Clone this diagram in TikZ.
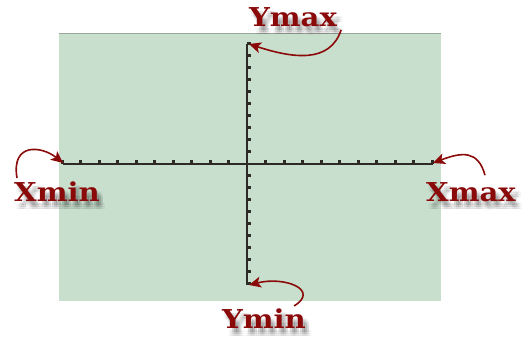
\documentclass[tikz,border=0pt]{standalone}
\usepackage{fontspec}
\setmainfont{DejaVu Serif}
\usepackage{tikz}
\usetikzlibrary{calc,arrows.meta}
\definecolor{gcscreen}{HTML}{C9DFCE}
\definecolor{gcedge}  {HTML}{9AA59D}
\definecolor{gcaxis}  {HTML}{2E2B26}
\definecolor{gcred}   {HTML}{8A0A0A}
\tikzset{
  lbl/.style={font=\bfseries\fontsize{26}{26}\selectfont, text=gcred, inner sep=0pt},
  lblshadow/.style={lbl, text=black, opacity=0.05},
  pointer/.style={gcred, line width=1.6pt, -{Stealth[length=12pt,width=11pt,inset=3pt]}},
  axline/.style={gcaxis, line width=1.8pt},
  axtick/.style={gcaxis, line width=3pt}
}
\newcommand{\gclabel}[3]{%
  \foreach \dx in {2,4,6} \foreach \dy in {4,6,8}
    \node[lblshadow] at ($(#2)+(\dx,\dy)$) {\scalebox{1.12}[1]{#3}};
  \node[lbl] (#1) at (#2) {\scalebox{1.12}[1]{#3}};}

\begin{document}
\begin{tikzpicture}[x=1pt, y=-1pt]
  \useasboundingbox (0,0) rectangle (523,339);
  % screen
  \fill[gcscreen] (59,33) rectangle (441,301);
  \draw[gcedge, line width=1.5pt] (59,33.7) -- (441,33.7);
  % axes
  \coordinate (orig)   at (247,164);
  \coordinate (ytop)   at (247,44);
  \coordinate (ybot)   at (247,285);
  \coordinate (xleft)  at (63,164);
  \coordinate (xright) at (433,164);
  \draw[axline] (xleft) -- (xright);
  \draw[axline] (ytop) -- (ybot);
  \foreach \i in {1,...,10} {
    \draw[axtick] ($(orig)+(\i*18.5,0)$) -- ++(0,-4);
    \draw[axtick] ($(orig)-(\i*18.5,0)$) -- ++(0,-4);
    \draw[axtick] ($(orig)+(0,\i*12)$) -- ++(4,0);
    \draw[axtick] ($(orig)-(0,\i*12)$) -- ++(4,0);
  }
  % labels
  \gclabel{ymax}{293,17}{Ymax}
  \gclabel{xmin}{57,192}{Xmin}
  \gclabel{xmax}{471,192}{Xmax}
  \gclabel{ymin}{264,319}{Ymin}
  % pointers
  \draw[pointer] ([shift={(4pt,-3pt)}]ymax.south east)
    .. controls (330,64) and (292,58) .. ([xshift=2pt]ytop);
  \draw[pointer] ([shift={(3pt,4pt)}]xmin.north west)
    .. controls (11,142) and (42,146) .. ([yshift=1pt]xleft);
  \draw[pointer] ([shift={(14pt,7pt)}]xmax.north)
    .. controls (478,150) and (462,152) .. ([yshift=1pt]xright);
  \draw[pointer] ([shift={(-12pt,3pt)}]ymin.north east)
    .. controls (320,290) and (285,276) .. ([xshift=2pt]ybot);
\end{tikzpicture}
\end{document}
